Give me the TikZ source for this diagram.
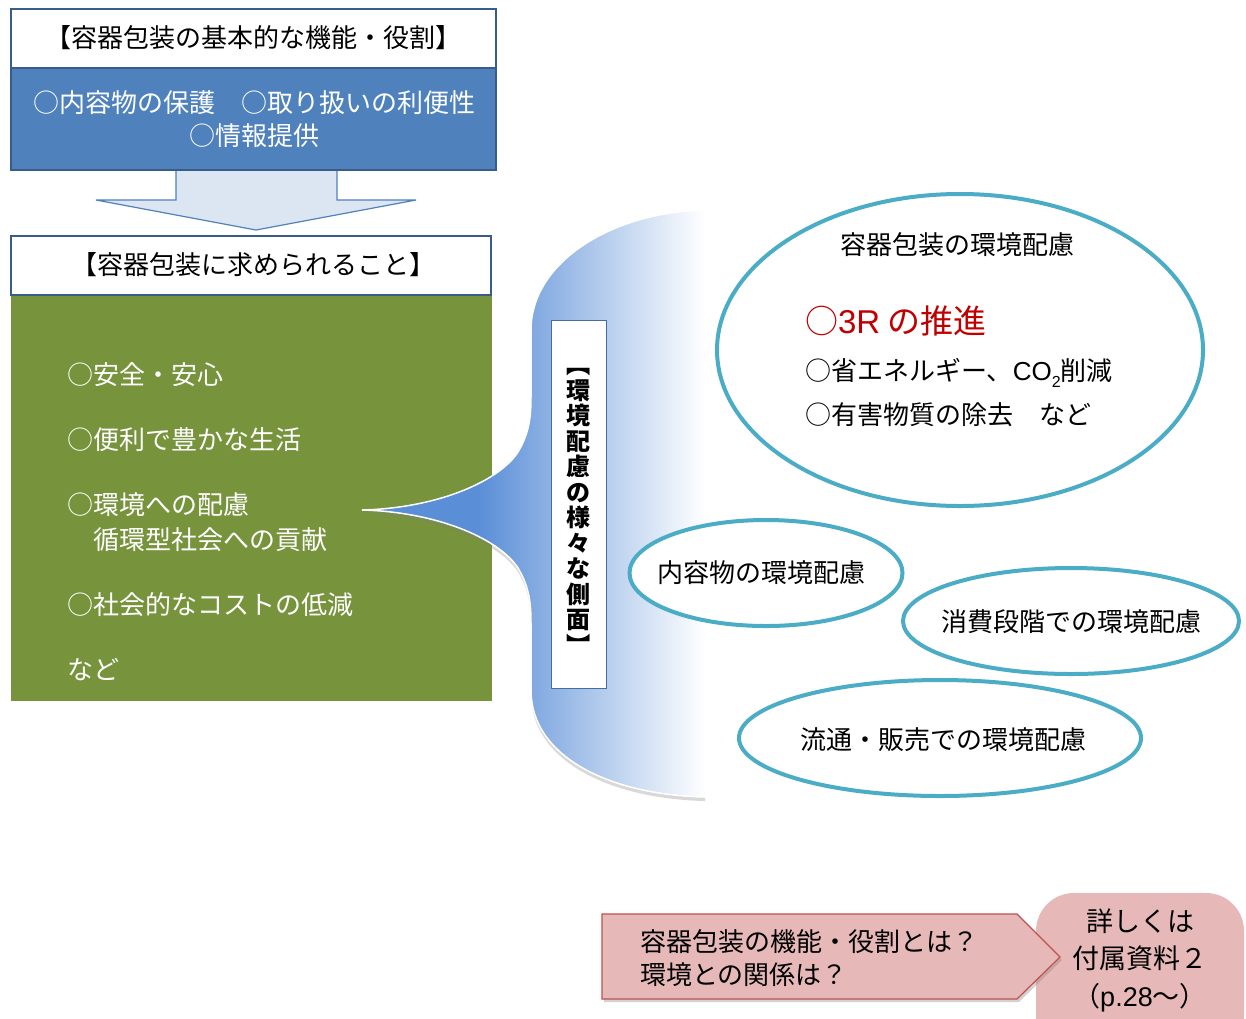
\documentclass[tikz,border=0pt]{standalone}
\usepackage{fontspec}
\setmainfont{Noto Sans CJK JP}
\newfontfamily\latinsf{Liberation Sans}
\usetikzlibrary{shapes.geometric,shadows}
\definecolor{bluebox}{HTML}{4F81BD}
\definecolor{blueedge}{HTML}{385D8A}
\definecolor{arrowfill}{HTML}{DCE6F2}
\definecolor{greenbox}{HTML}{77933C}
\definecolor{tealring}{HTML}{4BACC6}
\definecolor{redtext}{HTML}{C00000}
\definecolor{pinkfill}{HTML}{E6B9B8}
\definecolor{pinkedge}{HTML}{C0504D}
\definecolor{bb}{HTML}{5A8ED7}
\pgfdeclarehorizontalshading{brsh}{100bp}{color(0bp)=(bb); color(42bp)=(bb); color(75bp)=(white); color(100bp)=(white)}
\begin{document}
\begin{tikzpicture}[x=1pt,y=-1pt,
  jp/.style={font=\fontsize{26}{32}\selectfont, inner sep=0, outer sep=0},
  wt/.style={jp, text=white},
  boxa/.style={anchor=north west, inner sep=0, outer sep=0},
  ring/.style={ellipse, draw=tealring, line width=4pt, inner sep=0, fill=white},
]
\fill[white] (0,0) rectangle (1246,1018);
\useasboundingbox (0,0) rectangle (1246,1018);

% down arrow
\filldraw[fill=arrowfill, draw=bluebox, line width=1.2pt] (176,165) -- (176,200) -- (96,200) -- (256,230) -- (416,200) -- (337,200) -- (337,165) -- cycle;

% top box
\node[boxa, fill=bluebox, draw=blueedge, line width=1.2pt, minimum width=485pt, minimum height=161pt] (top) at (11,9) {};
\node[boxa, fill=white, draw=blueedge, line width=1.2pt, minimum width=485pt, minimum height=59pt] (tophd) at (11,9) {};
\node[jp] (t1) at (253,38) {【容器包装の基本的な機能・役割】};
\node[wt] (t2) at (254,103) {○内容物の保護　○取り扱いの利便性};
\node[wt] (t3) at (254,136) {○情報提供};

% green box
\node[boxa, fill=greenbox, minimum width=481pt, minimum height=406pt] (grn) at (11,295) {};
\node[boxa, fill=white, draw=blueedge, line width=1.2pt, minimum width=480pt, minimum height=59pt] (grnhd) at (11,236) {};
\node[jp] (t4) at (253,265) {【容器包装に求められること】};
\node[wt, anchor=west] (g1) at (67,375) {○安全・安心};
\node[wt, anchor=west] (g2) at (67,440) {○便利で豊かな生活};
\node[wt, anchor=west] (g3) at (67,505) {○環境への配慮};
\node[wt, anchor=west] (g4) at (93,540) {循環型社会への貢献};
\node[wt, anchor=west] (g5) at (67,605) {○社会的なコストの低減};
\node[wt, anchor=west] (g6) at (67,670) {など};

% bracket
\shadedraw[shading=brsh, draw=white, line width=1.5pt,
  drop shadow={opacity=0.3, shadow xshift=0pt, shadow yshift=-4pt}]
  (362,510) .. controls (440,508) and (500,480) .. (518,452)
  .. controls (530,432) and (531,415) .. (531,395) -- (531,330)
  .. controls (531,262) and (612,212) .. (705,210) -- (705,797)
  .. controls (612,795) and (531,758) .. (531,690) -- (531,625)
  .. controls (531,605) and (530,588) .. (518,568)
  .. controls (500,540) and (440,512) .. (362,510) -- cycle;

% vertical label
\node[draw=bluebox!85!black, fill=white, line width=1pt, minimum width=55pt, minimum height=368pt, inner sep=0] (vb) at (578.5,504) {};
\node[font=\fontsize{24}{25.5}\selectfont\bfseries, align=center, inner sep=0] (vt) at (578.5,505)
  {\rotatebox[origin=c]{-90}{【}\\環\\境\\配\\慮\\の\\様\\々\\な\\側\\面\\\rotatebox[origin=c]{-90}{】}};

% ellipses
\node[ring, minimum width=486pt, minimum height=312pt] (e1) at (960,350) {};
\node[ring, minimum width=273pt, minimum height=106pt] (e2) at (766,573) {};
\node[ring, minimum width=336pt, minimum height=106pt] (e3) at (1071,621) {};
\node[ring, minimum width=402pt, minimum height=116pt] (e4) at (940,738) {};

\node[jp] (e1t) at (957,245) {容器包装の環境配慮};
\node[jp, anchor=west, font=\fontsize{33}{36}\selectfont, text=redtext] (e1r) at (805,321) {○{\latinsf 3R} の推進};
\node[jp, anchor=west] (e1a) at (805,373) {○省エネルギー、{\latinsf CO\raisebox{-0.25em}{\fontsize{16}{16}\selectfont 2}}削減};
\node[jp, anchor=west] (e1b) at (805,415) {○有害物質の除去　など};

\node[jp] (e2t) at (761,573) {内容物の環境配慮};
\node[jp] (e3t) at (1071,622) {消費段階での環境配慮};
\node[jp] (e4t) at (943,740) {流通・販売での環境配慮};

% bottom right
\node[boxa, fill=pinkfill, rounded corners=38pt, minimum width=208pt, minimum height=160pt] (rr) at (1036,893) {};
\filldraw[fill=pinkfill, draw=pinkedge, line width=1.2pt,
  drop shadow={opacity=0.35, shadow xshift=2pt, shadow yshift=-3pt}]
  (602,914) -- (1017,914) -- (1060,957) -- (1017,999) -- (602,999) -- cycle;
\node[jp, anchor=west, align=left, font=\fontsize{26}{33}\selectfont] (q) at (640,958) {容器包装の機能・役割とは？\\環境との関係は？};
\node[jp, align=center, font=\fontsize{27}{37.5}\selectfont] (ref) at (1140,960) {詳しくは\\付属資料２\\（{\latinsf p.28}～）};
\end{tikzpicture}
\end{document}
